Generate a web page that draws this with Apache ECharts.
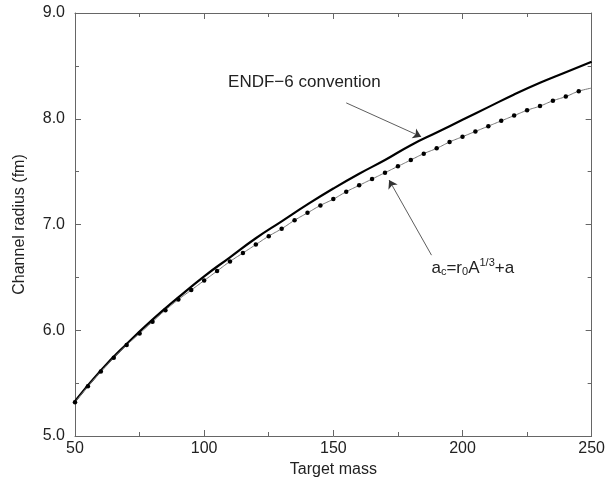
<!DOCTYPE html>
<html>
<head>
<meta charset="utf-8">
<script src="https://cdn.jsdelivr.net/npm/echarts@6/dist/echarts.min.js"></script>
<style>
  html, body { margin: 0; padding: 0; background: #fff; }
  #main { width: 608px; height: 484px; }
</style>
</head>
<body>
<div id="main"></div>
<script>
// target mass values
var massEndf = [50, 60, 70, 80, 90, 100, 110, 120, 130, 140, 150, 160, 170, 180, 190, 200, 210, 220, 230, 240, 250];
var radiusEndf = [5.33, 5.62, 5.87, 6.10, 6.31, 6.51, 6.69, 6.87, 7.03, 7.19, 7.34, 7.48, 7.61, 7.75, 7.87, 7.99, 8.11, 8.23, 8.34, 8.44, 8.54];

var massFit = [50, 55, 60, 65, 70, 75, 80, 85, 90, 95, 100, 105, 110, 115, 120, 125, 130, 135, 140, 145,
  150, 155, 160, 165, 170, 175, 180, 185, 190, 195, 200, 205, 210, 215, 220, 225, 230, 235, 240, 245, 250];
var radiusFit = [5.32, 5.47, 5.61, 5.74, 5.86, 5.97, 6.08, 6.19, 6.29, 6.38, 6.47, 6.56, 6.65, 6.73, 6.81, 6.89, 6.96, 7.04, 7.11, 7.18,
  7.24, 7.31, 7.37, 7.43, 7.49, 7.55, 7.61, 7.67, 7.72, 7.78, 7.83, 7.88, 7.93, 7.98, 8.03, 8.08, 8.12, 8.17, 8.21, 8.26, 8.29];

var xTicks = [50, 100, 150, 200, 250];
var yTicks = [5.0, 6.0, 7.0, 8.0, 9.0];

var font = 'Liberation Sans, Arial, sans-serif';
var axisColor = '#666';

var myChart = echarts.init(document.getElementById('main'));

function pairs(xs, ys) {
  return xs.map(function (x, i) { return [x, ys[i]]; });
}

var fitData = pairs(massFit, radiusFit).map(function (p, i) {
  // the last point sits on the frame, no marker drawn there
  return i === massFit.length - 1 ? { value: p, symbol: 'none' } : p;
});

var hidden = { color: 'rgba(0,0,0,0)' };

var option = {
  animation: false,
  backgroundColor: '#fff',
  textStyle: { fontFamily: font },
  grid: { left: 75, right: 14, top: 13, bottom: 48, containLabel: false },
  xAxis: [{
    type: 'value',
    min: xTicks[0], max: xTicks[xTicks.length - 1], interval: 50,
    name: 'Target mass', nameLocation: 'middle', nameGap: 24,
    nameTextStyle: { fontSize: 16, color: '#222', fontFamily: font },
    axisLine: { lineStyle: { color: axisColor, width: 1 } },
    axisTick: { inside: true, length: 6, lineStyle: { color: axisColor } },
    minorTick: { show: true, splitNumber: 2, length: 4, lineStyle: { color: axisColor } },
    axisLabel: { fontSize: 16, color: '#222', margin: 5, fontFamily: font },
    splitLine: { show: false }
  }, {
    type: 'value', position: 'top',
    min: xTicks[0], max: xTicks[xTicks.length - 1], interval: 50,
    axisLine: { lineStyle: { color: axisColor, width: 1 } },
    axisTick: { inside: true, length: 6, lineStyle: { color: axisColor } },
    minorTick: { show: true, splitNumber: 2, length: 4, lineStyle: { color: axisColor } },
    axisLabel: { show: false },
    splitLine: { show: false }
  }],
  yAxis: [{
    type: 'value',
    min: yTicks[0], max: yTicks[yTicks.length - 1], interval: 1,
    name: 'Channel radius (fm)', nameLocation: 'middle', nameGap: 47,
    nameTextStyle: { fontSize: 16, color: '#222', fontFamily: font },
    axisLine: { show: true, lineStyle: { color: axisColor, width: 1 } },
    axisTick: { show: true, inside: true, length: 6, lineStyle: { color: axisColor } },
    minorTick: { show: true, splitNumber: 2, length: 4, lineStyle: { color: axisColor } },
    axisLabel: {
      fontSize: 16, color: '#222', margin: 10, fontFamily: font,
      formatter: function (v) { return v.toFixed(1); }
    },
    splitLine: { show: false }
  }, {
    type: 'value', position: 'right',
    min: yTicks[0], max: yTicks[yTicks.length - 1], interval: 1,
    axisLine: { show: true, lineStyle: { color: axisColor, width: 1 } },
    axisTick: { show: true, inside: true, length: 6, lineStyle: { color: axisColor } },
    minorTick: { show: true, splitNumber: 2, length: 4, lineStyle: { color: axisColor } },
    axisLabel: { show: false },
    splitLine: { show: false }
  }],
  series: [
    {
      name: 'ENDF-6 convention',
      type: 'line',
      smooth: true,
      symbol: 'none',
      lineStyle: { color: '#000', width: 2.2 },
      data: pairs(massEndf, radiusEndf),
      markLine: {
        silent: true,
        symbol: ['none', 'arrow'],
        symbolSize: 8,
        label: { show: false },
        lineStyle: { color: '#333', width: 0.8, type: 'solid' },
        data: [
          [{ coord: [155, 8.15] }, { coord: [184, 7.83] }],
          [{ coord: [188, 6.71] }, { coord: [171.6, 7.42] }]
        ]
      },
      markPoint: {
        silent: true,
        symbol: 'rect',
        symbolSize: 1,
        itemStyle: hidden,
        data: [
          {
            coord: [138.8, 8.34],
            label: {
              show: true, position: 'inside', fontSize: 17, color: '#222', fontFamily: font,
              formatter: 'ENDF\u22126 convention'
            }
          },
          {
            coord: [204, 6.59],
            label: {
              show: true, position: 'inside', fontSize: 17, color: '#222', fontFamily: font,
              formatter: 'a{sub|c}=r{sub|0}A{sup|1/3}+a',
              rich: {
                sub: { fontSize: 11, verticalAlign: 'bottom', padding: [9, 0, 0, 0], color: '#222', fontFamily: font },
                sup: { fontSize: 11, verticalAlign: 'top', padding: [0, 0, 9, 0], color: '#222', fontFamily: font }
              }
            }
          }
        ]
      }
    },
    {
      name: 'fit',
      type: 'line',
      smooth: true,
      symbol: 'circle',
      symbolSize: 4.5,
      showSymbol: true,
      itemStyle: { color: '#000' },
      lineStyle: { color: '#777', width: 1 },
      data: fitData
    }
  ]
};

myChart.setOption(option);
window.addEventListener('resize', function () {
  myChart.resize();
});
</script>
</body>
</html>
